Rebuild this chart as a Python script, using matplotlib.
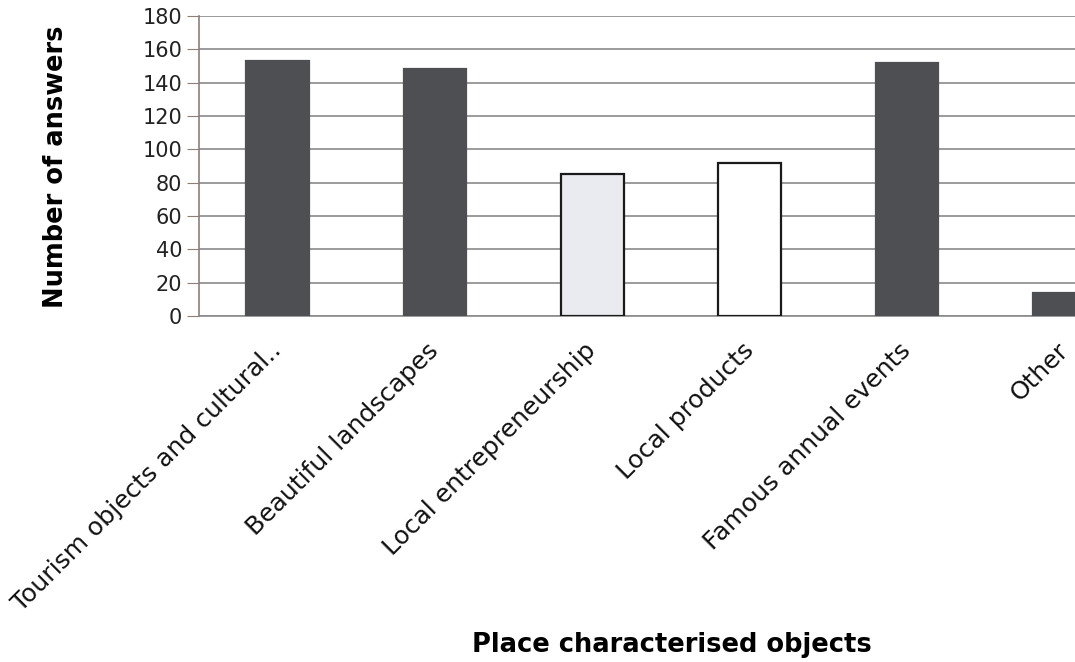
import matplotlib
matplotlib.use("Agg")
import matplotlib.pyplot as plt
import matplotlib.transforms as mtransforms
import numpy as np

categories = [
    "Tourism objects and cultural..",
    "Beautiful landscapes",
    "Local entrepreneurship",
    "Local products",
    "Famous annual events",
    "Other",
]
answers = [153, 148, 85, 92, 152, 14]
fill_colors = ["#4d4f52", "#4d4f52", "#e9ebf0", "#ffffff", "#4d4f52", "#4d4f52"]
edge_colors = ["#4d4f52", "#4d4f52", "#1a1a1a", "#1a1a1a", "#4d4f52", "#4d4f52"]
y_ticks = list(range(0, 181, 20))

plt.rcParams["font.family"] = ["DejaVu Sans"]

fig = plt.figure(figsize=(10.75, 6.62), dpi=100)
# the plot area runs past the right edge of the figure
ax = fig.add_axes([199 / 1075, 1 - 316 / 662, 944 / 1075, 300 / 662])

x = np.arange(len(categories))
ax.bar(x, answers, width=0.4, color=fill_colors, edgecolor=edge_colors,
       linewidth=1.6, zorder=3)

ax.set_xlim(-0.5, len(categories) - 0.5)
ax.set_ylim(0, 180)
ax.set_yticks(y_ticks)
ax.tick_params(axis="y", labelsize=15, length=9, color="#8c7f78", pad=3,
               labelcolor="#222222")
ax.yaxis.grid(True, color="#8a8a8a", linewidth=1.2, zorder=0)
ax.set_xticks(x)
ax.set_xticklabels(categories, rotation=45, ha="right", rotation_mode="anchor",
                   fontsize=18, color="#111111")
ax.tick_params(axis="x", length=0, pad=16)
shift = mtransforms.ScaledTranslation(-6 / 72, 0, fig.dpi_scale_trans)
for lab in ax.get_xticklabels():
    lab.set_transform(lab.get_transform() + shift)

for side in ["top", "right"]:
    ax.spines[side].set_visible(False)
ax.spines["left"].set_color("#8c7f78")
ax.spines["bottom"].set_color("#8a8a8a")
ax.spines["left"].set_linewidth(1.2)
ax.spines["bottom"].set_linewidth(1.2)

fig.text(56 / 1075, 1 - 167 / 662, "Number of answers", rotation=90,
         fontsize=18.5, fontweight="bold", ha="center", va="center")
fig.text(672 / 1075, 1 - 645 / 662, "Place characterised objects",
         fontsize=18.5, fontweight="bold", ha="center", va="center")

fig.savefig("out.png", dpi=100)
